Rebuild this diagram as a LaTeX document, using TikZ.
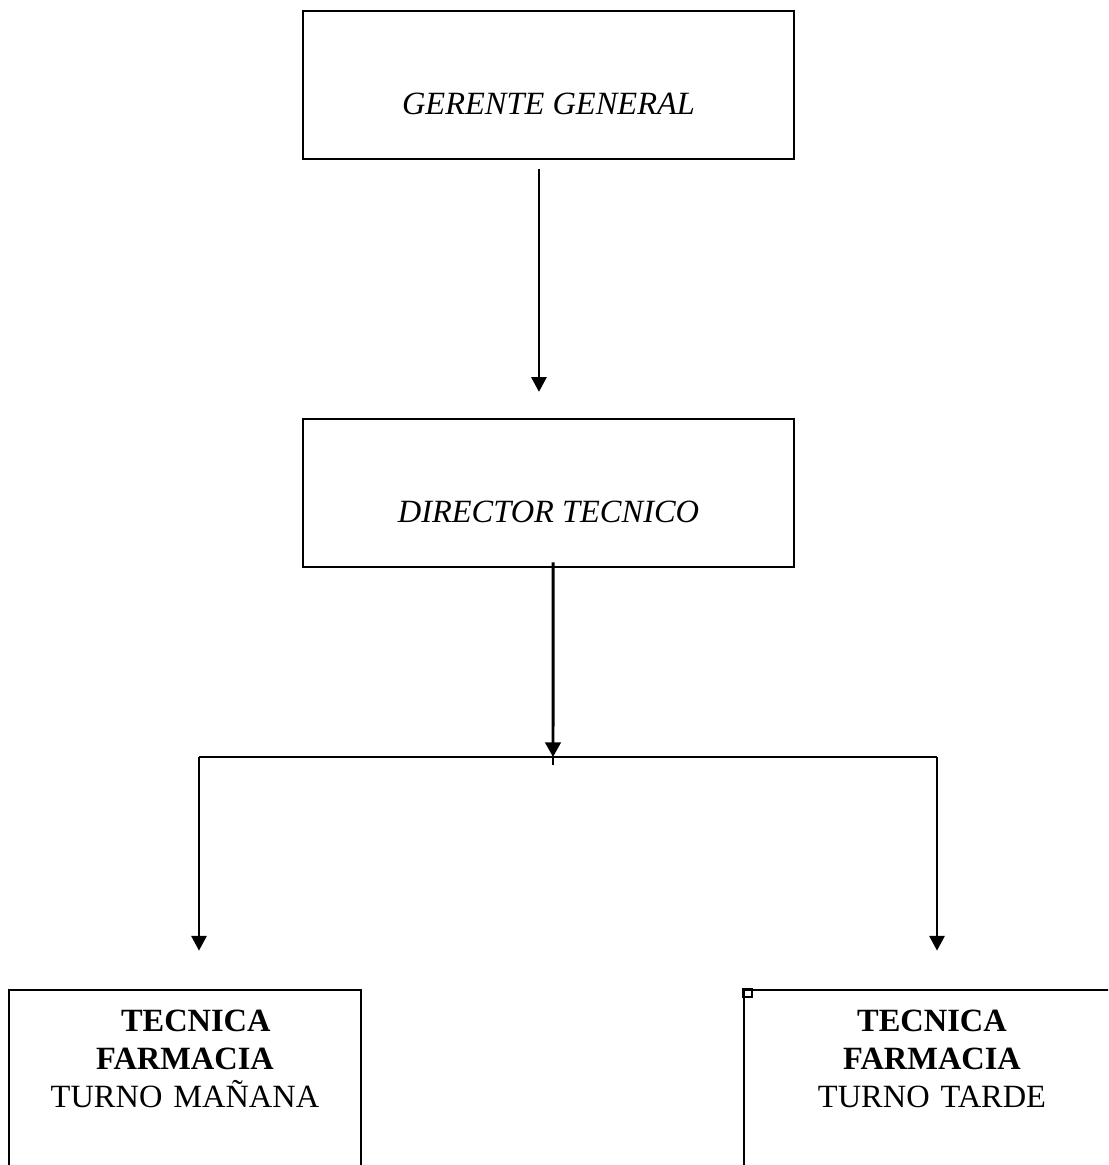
\documentclass[tikz,border=0pt]{standalone}
\usepackage{fontspec}
\setmainfont{Liberation Serif}
\usetikzlibrary{arrows.meta}

\begin{document}
\begin{tikzpicture}[x=0.013cm, y=-0.013cm,
		caja/.style={draw, line width=0.75pt, minimum width=6.38cm, minimum height=1.93cm, text height=0.77cm, font=\fontsize{12}{14}\selectfont\itshape},
		cajabajo/.style={draw, line width=0.75pt, anchor=north, align=center, inner ysep=0.26cm, text depth=3cm, font=\fontsize{12}{14}\selectfont},
		flecha/.style={line width=0.55pt, -{Triangle[length=1.9mm, width=2mm]}}]
		\clip (0, 0) rectangle (1108, 1165);
		
		\node[caja] (gerente) at (548.5, 85) {GERENTE GENERAL};
		\node[caja] (director) at (548.5, 493) {DIRECTOR TECNICO};
		
		\node[cajabajo, minimum width=4.58cm, text width=4.2cm] (manana) at (185, 989) {\textbf{\ \ TECNICA}\\\textbf{FARMACIA}\\TURNO MAÑANA};
		\node[cajabajo, minimum width=4.89cm, text width=4.5cm] (tarde) at (932, 989) {\textbf{TECNICA}\\\textbf{FARMACIA}\\TURNO TARDE};
		\draw[line width=0.5pt] (tarde.north west) rectangle ++(9, 8);
		
		\coordinate (cruce) at (553, 757);
		\coordinate (izq) at (199, 757);
		\coordinate (der) at (937, 757);
		
		\draw[flecha, shorten <=0.117cm, shorten >=0.338cm] ([xshift=-0.124cm]gerente.south) -- ([xshift=-0.124cm]director.north);
		\draw[flecha, line width=1.1pt] ([xshift=0.059cm, yshift=0.078cm]director.south) -- (cruce);
		\draw[line width=1.1pt] (cruce) -- ++(0, 8);
		\draw[line width=0.55pt] (izq) -- (der);
		\draw[flecha, shorten >=0.5cm] (izq) -- (izq |- manana.north);
		\draw[flecha, shorten >=0.5cm] (der) -- (der |- tarde.north);
	\end{tikzpicture}
\end{document}
